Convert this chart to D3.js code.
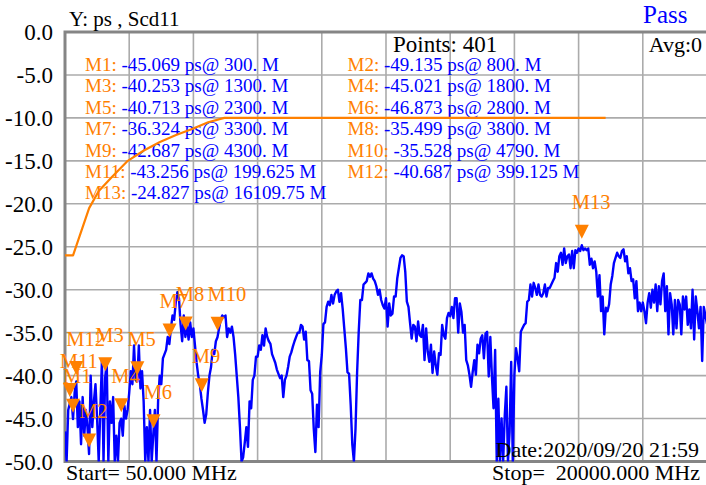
<!DOCTYPE html>
<html>
<head>
<meta charset="utf-8">
<script src="https://cdn.jsdelivr.net/npm/d3@7"></script>
<style>
body { margin: 0; background: #fff; }
.chart { width: 706px; height: 485px; }
svg text { font-family: "Liberation Serif", "Times New Roman", serif; }
</style>
</head>
<body>
<div class="chart"></div>
<script>
// sweep settings
const fStart = 50, fStop = 20000, nPoints = 401;

const yTicks = [0, -5, -10, -15, -20, -25, -30, -35, -40, -45, -50];

// Scd11 trace, ps (401 points)
const scd11 = [
  -46.5, -50, -44, -43.256, -42.5, -45.069, -42, -40.687, -46, -43,
  -48, -42.5, -47, -44, -46, -49.135, -40, -46, -43, -41,
  -45, -50, -44, -38.3, -50, -40.253, -38.5, -50, -43, -45.5,
  -42.5, -50, -47, -50, -45.5, -45.021, -47, -43.5, -45, -44,
  -42, -39.5, -41, -36.5, -40.5, -40.713, -36.5, -41.5, -39.5, -43,
  -50, -46, -50, -44, -50, -46.873, -44, -50, -43, -40,
  -41, -38, -37.5, -37, -35.5, -36.324, -34.5, -33, -33.5, -31.5,
  -30.3, -31, -34, -36, -33, -35.499, -34, -35.8, -33.8, -35.5,
  -34.5, -36.5, -38.5, -40, -41, -42.687, -44, -45.5, -44.5, -42,
  -40, -39, -37, -37.5, -36, -35.528, -34.5, -33.5, -33, -33.2,
  -33, -35.5, -34.5, -35, -34.3, -35.5, -37.5, -40, -42.5, -46,
  -50, -49.5, -47.8, -46, -48.3, -43, -43.8, -40.5, -40, -37.8,
  -37.8, -36.5, -37, -35.3, -36.5, -34.5, -35.5, -36, -36.3, -37.5,
  -38, -38.5, -39.3, -39.8, -40.3, -40, -42.5, -40.5, -40, -39,
  -37.8, -37.3, -36.6, -36, -35.5, -35, -35, -34.1, -34.3, -35.8,
  -34.9, -38.2, -38.3, -41.7, -42.1, -46.2, -48.9, -43.4, -46, -39.6,
  -37.6, -34, -33.8, -32, -31.4, -31.8, -30.6, -31.6, -30.6, -30.2,
  -30, -31.4, -30.4, -32.2, -34.5, -36.8, -39.6, -39.8, -43.4, -48,
  -50, -46.2, -39.6, -34.9, -31.2, -31.2, -29.4, -29.2, -29, -28.1,
  -28.5, -28.1, -28.7, -29, -29.6, -30.6, -30, -31.2, -31.8, -32.2,
  -31, -34.3, -31.6, -33, -32.8, -30.8, -30.8, -28.7, -27.5, -26.3,
  -26, -26.1, -27.9, -31.4, -32, -33.9, -35.7, -34.1, -34.3, -36,
  -33.7, -35.3, -35.5, -34.1, -38.2, -34.5, -37.2, -38.4, -36.4, -39.7,
  -37.2, -38.8, -39.9, -37.4, -37.6, -34.1, -35.3, -35.7, -33.3, -32.7,
  -33.1, -32, -33.3, -31, -31, -35, -31.6, -32.6, -35, -34.1,
  -38.2, -38.8, -39.9, -41.3, -39.6, -38.2, -39.9, -36.4, -37.4, -35.7,
  -35.3, -38, -35.1, -34.9, -40.1, -35.5, -40.1, -43.8, -37, -50,
  -42.7, -50, -45, -50, -44.6, -41.3, -50, -46.6, -38.4, -50,
  -39.9, -36.8, -38, -39.5, -34.9, -34.5, -34.1, -33.9, -31.4, -31.2,
  -29.4, -30.8, -29.2, -29.8, -30.6, -29.4, -30.6, -30.8, -30.4, -29.4,
  -30.8, -29.8, -29.8, -29.4, -29, -28.6, -26.9, -27.9, -26.1, -25.7,
  -27.1, -25.2, -26.9, -26.1, -25.9, -27.5, -25.5, -27.5, -25.4, -25.7,
  -25.2, -25.5, -24.827, -25.4, -25.2, -25.4, -25.2, -27.1, -26.4, -27.5,
  -26.7, -27.9, -30.8, -28.3, -32.5, -30.8, -35.2, -32.1, -32.5, -31.7,
  -29.4, -28.4, -26.9, -26.3, -25.7, -26.1, -26.3, -25.5, -25.3, -26.7,
  -26.1, -28.1, -27.5, -29, -28.8, -31, -29, -32.5, -31.5, -32.5,
  -31.5, -32.5, -33.9, -31.5, -30.4, -32.1, -30, -31.5, -29.4, -32.5,
  -29.6, -31.7, -29, -28.1, -32.5, -29.6, -35.2, -30.4, -31.7, -35.2,
  -31.2, -34.5, -31.2, -31.7, -35.2, -30.8, -32.3, -30.8, -34.1, -32.3,
  -34.5, -30, -35.8, -30.8, -32.5, -34.5, -32, -38.3, -32, -33,
  -34
];

// limit line (orange)
const limitFreqs = [50, 300, 800, 1100, 1500, 2000, 2500, 3000, 3500, 4000, 4500, 5000, 16850];
const limitVals = [-26, -26, -20.5, -18.5, -16.9, -15, -13.8, -12.8, -12, -11.3, -10.5, -10, -10];

// markers
const markerNames = ['M1','M2','M3','M4','M5','M6','M7','M8','M9','M10','M11','M12','M13'];
const markerFreqs = [300, 800, 1300, 1800, 2300, 2800, 3300, 3800, 4300, 4790, 199.625, 399.125, 16109.75];
const markerVals = [-45.069, -49.135, -40.253, -45.021, -40.713, -46.873, -36.324, -35.499, -42.687, -35.528, -43.256, -40.687, -24.827];

const width = 706, height = 485;
const plotL = 65, plotR = 707, plotT = 32, plotB = 461.5;
const orange = '#ff8000', blue = '#0000ff';
const serif = '"Liberation Serif", "Times New Roman", serif';

const svg = d3.select('.chart')
  .append('svg')
  .attr('width', width)
  .attr('height', height)
  .attr('font-family', serif);

const x = d3.scaleLinear().domain([fStart, fStop]).range([plotL, plotR]);
const y = d3.scaleLinear().domain([0, -50]).range([plotT, plotB]);

const step = (fStop - fStart) / (nPoints - 1);
const freqs = scd11.map((v, i) => fStart + i * step);

// grid
const xGrid = d3.range(11).map(k => fStart + k * (fStop - fStart) / 10);
svg.append('g').selectAll('line')
  .data(xGrid.slice(1))
  .join('line')
  .attr('x1', d => x(d)).attr('x2', d => x(d))
  .attr('y1', plotT).attr('y2', plotB)
  .style('stroke', '#ababab').style('stroke-width', 1.6);
svg.append('g').selectAll('line')
  .data(yTicks.slice(1, -1))
  .join('line')
  .attr('x1', plotL).attr('x2', plotR)
  .attr('y1', d => y(d)).attr('y2', d => y(d))
  .style('stroke', '#ababab').style('stroke-width', 1.6);

// frame
svg.append('path')
  .attr('d', `M${plotR},${plotT}H${plotL}V${plotB}H${plotR}`)
  .style('fill', 'none')
  .style('stroke', '#858585')
  .style('stroke-width', 3);

// y axis labels
const yAxis = d3.axisLeft(y)
  .tickValues(yTicks)
  .tickSize(0)
  .tickPadding(12)
  .tickFormat(d => d.toFixed(1));
const ya = svg.append('g')
  .attr('transform', `translate(${plotL},0)`)
  .call(yAxis)
  .attr('font-family', serif)
  .attr('font-size', 23);
ya.select('.domain').remove();
ya.selectAll('text')
  .attr('fill', '#000')
  .attr('dy', '0.33em');

// marker readout table
const legend = svg.append('g');
markerNames.forEach((name, k) => {
  const f = markerFreqs[k];
  const fTxt = Number.isInteger(f) ? f + '.' : String(f);
  const t = legend.append('text')
    .attr('x', k % 2 === 0 ? 85 : 347.5)
    .attr('y', 71 + Math.floor(k / 2) * 21.4)
    .attr('font-size', 19);
  t.append('tspan').attr('fill', orange).text(name + ': ');
  t.append('tspan').attr('fill', blue).text(`${markerVals[k].toFixed(3)} ps@ ${fTxt} M`);
});

// header texts
svg.append('text').attr('x', 69).attr('y', 26).attr('font-size', 21).text('Y: ps , Scd11');
svg.append('text').attr('x', 643).attr('y', 23).attr('font-size', 25).attr('fill', blue).text('Pass');
svg.append('text').attr('x', 393).attr('y', 52).attr('font-size', 23).text('Points: 401');
svg.append('text').attr('x', 702).attr('y', 52).attr('font-size', 22)
  .attr('text-anchor', 'end').text('Avg:0');

// clip for traces
svg.append('clipPath').attr('id', 'plotclip')
  .append('rect').attr('x', plotL).attr('y', plotT)
  .attr('width', plotR - plotL).attr('height', plotB - plotT);

const plot = svg.append('g').attr('clip-path', 'url(#plotclip)');

// limit line
const limitLine = d3.line().x(d => x(d[0])).y(d => y(d[1]));
plot.append('path')
  .datum(limitFreqs.map((f, i) => [f, limitVals[i]]))
  .attr('d', limitLine)
  .style('fill', 'none')
  .style('stroke', orange)
  .style('stroke-width', 2.2)
  .style('stroke-linejoin', 'round');

// trace
const traceLine = d3.line()
  .x((d, i) => x(freqs[i]))
  .y(d => y(Math.max(d, -50)));
plot.append('path')
  .datum(scd11)
  .attr('d', traceLine)
  .style('fill', 'none')
  .style('stroke', blue)
  .style('stroke-width', 2.4)
  .style('stroke-linejoin', 'round');

// marker triangles + labels
const mk = svg.append('g');
markerNames.forEach((name, k) => {
  const mx = x(markerFreqs[k]);
  const my = y(markerVals[k]);
  mk.append('path')
    .attr('d', `M${mx - 7},${my - 20.5}L${mx + 7},${my - 20.5}L${mx},${my - 6.5}Z`)
    .style('fill', orange);
  mk.append('text')
    .attr('x', mx - 10)
    .attr('y', my - 36)
    .attr('font-size', 20.5)
    .attr('fill', orange)
    .text(name);
});

// footer
svg.append('text').attr('x', 699).attr('y', 457).attr('font-size', 22)
  .attr('text-anchor', 'end').text('Date:2020/09/20 21:59');
svg.append('text').attr('x', 66).attr('y', 480).attr('font-size', 22).text('Start= 50.000 MHz');
svg.append('text').attr('x', 700).attr('y', 480).attr('font-size', 22)
  .attr('text-anchor', 'end').style('white-space', 'pre').text('Stop=  20000.000 MHz');
</script>
</body>
</html>
